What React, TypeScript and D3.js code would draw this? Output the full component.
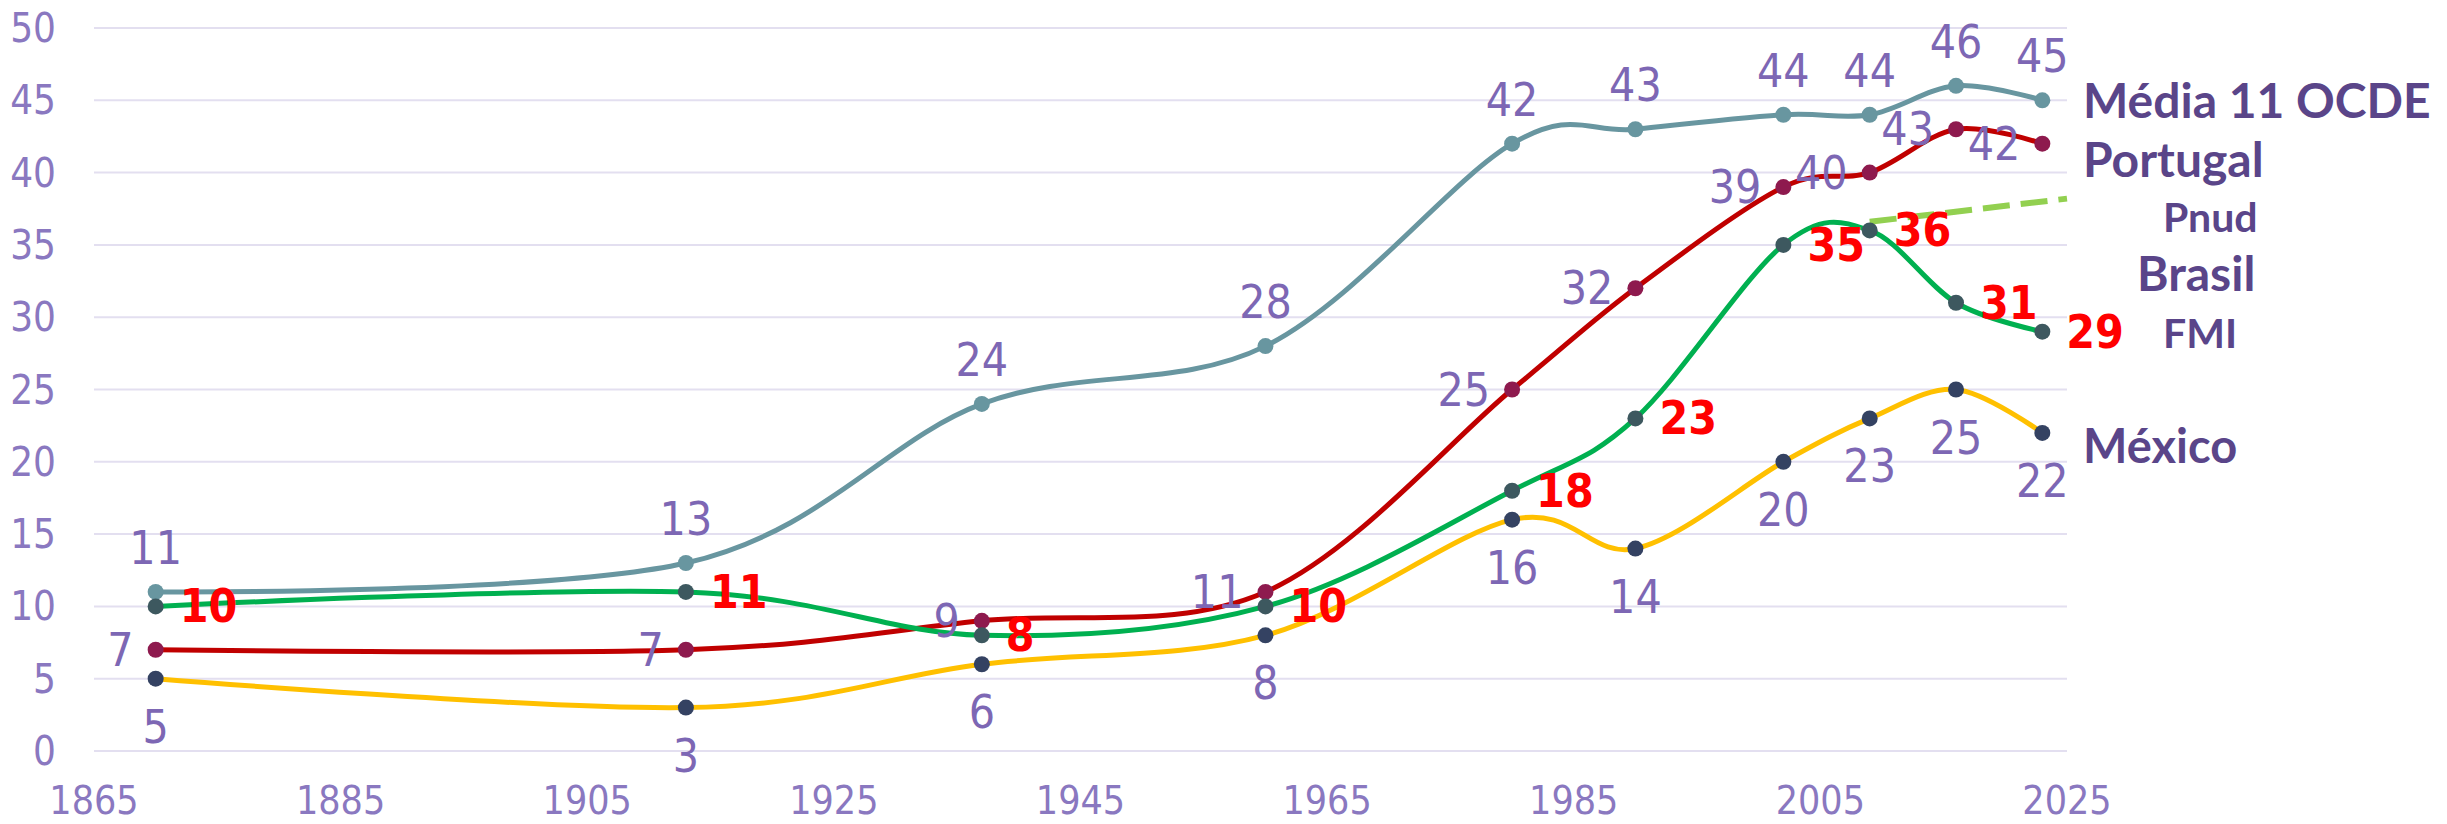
import { useRef, useEffect } from 'react';
import * as d3 from 'd3';

// years of each observation
const years = [1870, 1913, 1937, 1960, 1980, 1990, 2002, 2009, 2016, 2023];

// tax burden, % of GDP
const ocde = [11, 13, 24, 28, 42, 43, 44, 44, 46, 45];
const portugal = [7, 7, 9, 11, 25, 32, 39, 40, 43, 42];
const brasil = [10, 11, 8, 10, 18, 23, 35, 36, 31, 29];
const mexico = [5, 3, 6, 8, 16, 14, 20, 23, 25, 22];

// Pnud projection for Brasil
const pnudYears = [2009, 2025];
const pnud = [36.6, 38.2];

const xTicks = [1865, 1885, 1905, 1925, 1945, 1965, 1985, 2005, 2025];
const yTicks = [0, 5, 10, 15, 20, 25, 30, 35, 40, 45, 50];

// right-hand labels and the value they sit next to
const legendNames = ['Média 11 OCDE', 'Portugal', 'Pnud', 'Brasil', 'FMI', 'México'];
const legendValues = [45, 40.9, 36.9, 33, 28.9, 21.1];

const NARROW = '"Liberation Sans Narrow", "DejaVu Sans Condensed", "Open Sans", sans-serif';
const BOLD = 'Lato, "Open Sans", sans-serif';
const TICK_COLOR = '#8a78c0';
const LABEL_COLOR = '#7d67b4';
const LEGEND_COLOR = '#5a4589';

const W = 2447;
const H = 824;

export default function App() {
  const svgRef = useRef<SVGSVGElement>(null);

  useEffect(() => {
    const svg = d3.select(svgRef.current);
    svg.selectAll('*').remove();

    const x = d3.scaleLinear().domain([1865, 2025]).range([94, 2067]);
    const y = d3.scaleLinear().domain([0, 50]).range([751, 28]);

    // gridlines
    svg.append('g')
      .selectAll('line')
      .data(yTicks)
      .join('line')
      .attr('x1', x(1865)).attr('x2', x(2025))
      .attr('y1', d => y(d)).attr('y2', d => y(d))
      .attr('stroke', '#e3dff0')
      .attr('stroke-width', 2);

    // y tick labels
    svg.append('g')
      .selectAll('text')
      .data(yTicks)
      .join('text')
      .attr('x', 56)
      .attr('y', d => y(d) + 14)
      .attr('text-anchor', 'end')
      .attr('font-family', NARROW)
      .attr('font-size', 40)
      .attr('fill', TICK_COLOR)
      .text(d => d);

    // x tick labels
    svg.append('g')
      .selectAll('text')
      .data(xTicks)
      .join('text')
      .attr('x', d => x(d))
      .attr('y', 814)
      .attr('text-anchor', 'middle')
      .attr('font-family', NARROW)
      .attr('font-size', 39)
      .attr('fill', TICK_COLOR)
      .text(d => d);

    const line = d3.line<number>()
      .x((_, i) => x(years[i]))
      .y(d => y(d))
      .curve(d3.curveCardinal.tension(0));

    const series = [
      { values: ocde, stroke: '#6896a0', dot: '#6896a0' },
      { values: portugal, stroke: '#c00000', dot: '#8e1a4e' },
      { values: mexico, stroke: '#ffc000', dot: '#344262' },
      { values: brasil, stroke: '#00b050', dot: '#3d585f' },
    ];

    // Pnud dashed projection
    svg.append('path')
      .attr('d', d3.line<number>()
        .x((_, i) => x(pnudYears[i]))
        .y(d => y(d))(pnud))
      .attr('fill', 'none')
      .attr('stroke', '#92d050')
      .attr('stroke-width', 6)
      .attr('stroke-dasharray', '27 11');

    for (const s of series) {
      svg.append('path')
        .attr('d', line(s.values))
        .attr('fill', 'none')
        .attr('stroke', s.stroke)
        .attr('stroke-width', 5);
    }
    for (const s of series) {
      svg.append('g')
        .selectAll('circle')
        .data(s.values)
        .join('circle')
        .attr('cx', (_, i) => x(years[i]))
        .attr('cy', d => y(d))
        .attr('r', 8)
        .attr('fill', s.dot);
    }

    const labels = svg.append('g').attr('font-family', NARROW).attr('font-size', 46);

    // OCDE above
    labels.append('g').selectAll('text').data(ocde).join('text')
      .attr('x', (_, i) => x(years[i]))
      .attr('y', d => y(d) - 28)
      .attr('text-anchor', 'middle')
      .attr('fill', LABEL_COLOR)
      .text(d => d);

    // Portugal left
    labels.append('g').selectAll('text').data(portugal).join('text')
      .attr('x', (_, i) => x(years[i]) - 22)
      .attr('y', d => y(d) + 16)
      .attr('text-anchor', 'end')
      .attr('fill', LABEL_COLOR)
      .text(d => d);

    // Mexico below
    labels.append('g').selectAll('text').data(mexico).join('text')
      .attr('x', (_, i) => x(years[i]))
      .attr('y', d => y(d) + 64)
      .attr('text-anchor', 'middle')
      .attr('fill', LABEL_COLOR)
      .text(d => d);

    // Brasil right, bold red
    labels.append('g').selectAll('text').data(brasil).join('text')
      .attr('x', (_, i) => x(years[i]) + 24)
      .attr('y', d => y(d) + 16)
      .attr('font-weight', 'bold')
      .attr('font-size', 46)
      .attr('fill', '#ff0000')
      .text(d => d);

    // right-hand legend
    const legendX = [2083, 2083, 2163, 2137, 2163, 2083];
    const legendSize = [48, 48, 41, 48, 41, 47];
    svg.append('g').selectAll('text').data(legendNames).join('text')
      .attr('x', (_, i) => legendX[i])
      .attr('y', (_, i) => y(legendValues[i]) + legendSize[i] * 0.36)
      .attr('font-family', BOLD)
      .attr('font-weight', 'bold')
      .attr('font-size', (_, i) => legendSize[i])
      .attr('fill', LEGEND_COLOR)
      .text(d => d);
  }, []);

  return (
    <svg
      ref={svgRef}
      width={W}
      height={H}
      style={{ position: 'absolute', left: 0, top: 0, background: '#fff' }}
    />
  );
}
